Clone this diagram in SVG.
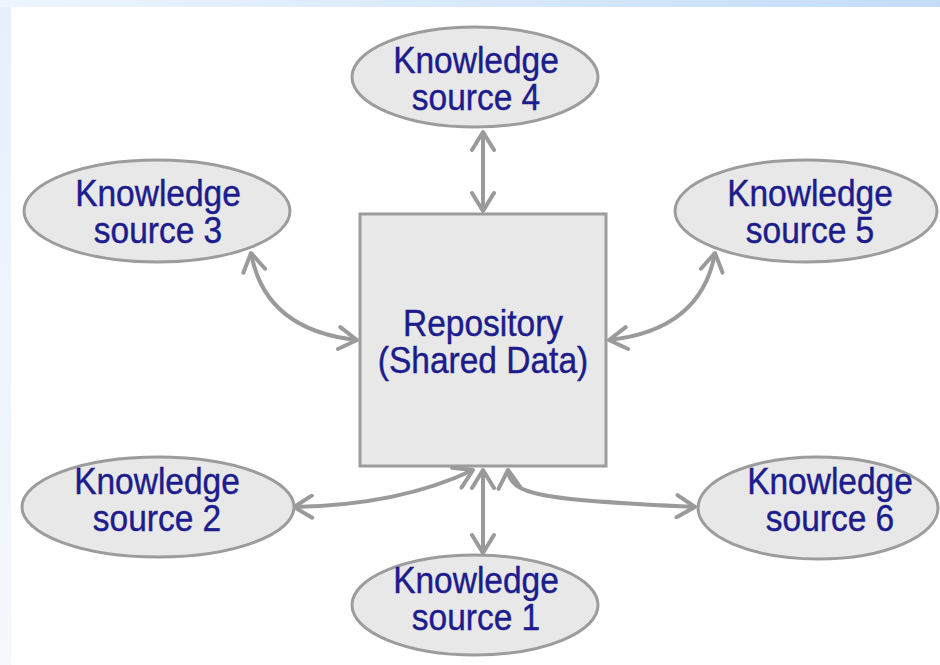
<svg xmlns="http://www.w3.org/2000/svg" width="940" height="665" viewBox="0 0 940 665">
  <defs>
    <linearGradient id="topBand" x1="0" y1="0" x2="1" y2="0">
      <stop offset="0" stop-color="#eef5fd"/>
      <stop offset="1" stop-color="#c3ddf8"/>
    </linearGradient>
    <linearGradient id="leftBand" x1="0" y1="0" x2="0" y2="1">
      <stop offset="0" stop-color="#e6f0fc"/>
      <stop offset="1" stop-color="#f5f8fd"/>
    </linearGradient>
    <marker id="chevron" markerUnits="userSpaceOnUse" markerWidth="26" markerHeight="26" viewBox="0 0 26 26" refX="21" refY="13" orient="auto-start-reverse">
      <path d="M3,2 L21,13 L3,24" fill="none" stroke="#9a9a9a" stroke-width="4" stroke-linecap="round" stroke-linejoin="round"/>
    </marker>
    <style>
      .node { fill: #e8e8e8; stroke: #9c9c9c; stroke-width: 3; }
      .label { font-family: "Liberation Sans", Arial, sans-serif; font-size: 33.5px; fill: #1c1c8c; stroke: #1c1c8c; stroke-width: 0.4; text-anchor: middle; }
      .link { fill: none; stroke: #9a9a9a; stroke-width: 4; marker-start: url(#chevron); marker-end: url(#chevron); }
    </style>
  </defs>

  <!-- page frame -->
  <rect x="0" y="0" width="940" height="665" fill="#ffffff"/>
  <rect x="0" y="0" width="11" height="665" fill="url(#leftBand)"/>
  <rect x="0" y="0" width="940" height="7" fill="url(#topBand)"/>

  <!-- connectors -->
  <g id="connectors">
    <path class="link" d="M483,132 L483,211"/>
    <path class="link" d="M251,253 Q265,330 357,340"/>
    <path class="link" d="M609,340 Q701,330 715,253"/>
    <path class="link" d="M473,470 Q400,505 294,507"/>
    <path class="link" d="M483,470 L483,553"/>
    <path class="link" d="M508,470 C510,495 540,500 695,507"/>
  </g>

  <!-- central repository -->
  <g id="repository">
    <rect class="node" x="360" y="214" width="246" height="252"/>
    <text class="label" transform="translate(483 336) scale(1 1.08)"><tspan x="0" y="0">Repository</tspan><tspan x="0" y="34.5">(Shared Data)</tspan></text>
  </g>

  <g id="ks4">
    <ellipse class="node" cx="475" cy="77" rx="123" ry="50"/>
    <text class="label" transform="translate(476 73) scale(1 1.08)"><tspan x="0" y="0">Knowledge</tspan><tspan x="0" y="34">source 4</tspan></text>
  </g>

  <g id="ks3">
    <ellipse class="node" cx="157" cy="211" rx="133" ry="51"/>
    <text class="label" transform="translate(158 206) scale(1 1.08)"><tspan x="0" y="0">Knowledge</tspan><tspan x="0" y="34.5">source 3</tspan></text>
  </g>

  <g id="ks5">
    <ellipse class="node" cx="806" cy="211" rx="131" ry="51"/>
    <text class="label" transform="translate(810 206) scale(1 1.08)"><tspan x="0" y="0">Knowledge</tspan><tspan x="0" y="34.5">source 5</tspan></text>
  </g>

  <g id="ks2">
    <ellipse class="node" cx="158" cy="507" rx="136" ry="50"/>
    <text class="label" transform="translate(157 494) scale(1 1.08)"><tspan x="0" y="0">Knowledge</tspan><tspan x="0" y="34.5">source 2</tspan></text>
  </g>

  <g id="ks6">
    <ellipse class="node" cx="818" cy="508" rx="120" ry="51"/>
    <text class="label" transform="translate(830 494) scale(1 1.08)"><tspan x="0" y="0">Knowledge</tspan><tspan x="0" y="34.5">source 6</tspan></text>
  </g>

  <g id="ks1">
    <ellipse class="node" cx="475" cy="605" rx="123" ry="50"/>
    <text class="label" transform="translate(476 593) scale(1 1.08)"><tspan x="0" y="0">Knowledge</tspan><tspan x="0" y="34.5">source 1</tspan></text>
  </g>
</svg>
